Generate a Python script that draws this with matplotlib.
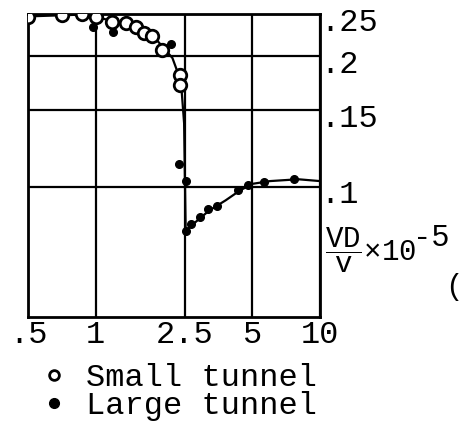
import numpy as np
import matplotlib
matplotlib.use('Agg')
from matplotlib import pyplot as plt
from matplotlib import transforms

plt.rcParams['font.family'] = ['Liberation Mono', 'DejaVu Sans Mono']
plt.rcParams['mathtext.fontset'] = 'custom'
plt.rcParams['mathtext.rm'] = 'Liberation Mono'
plt.rcParams['mathtext.it'] = 'Liberation Mono'

# small tunnel (open circles)
smallX = [0.5, 0.71, 0.87, 1.0, 1.18, 1.37, 1.52, 1.65, 1.79, 1.98, 2.37, 2.37]
smallY = [0.246, 0.249, 0.250, 0.246, 0.240, 0.238, 0.233, 0.226, 0.223, 0.207, 0.181, 0.172]

# large tunnel (filled dots)
largeX = [0.97, 1.19, 2.17, 2.35, 2.52, 2.52, 2.67, 2.92, 3.16, 3.49, 4.32, 4.76, 5.64, 7.68]
largeY = [0.233, 0.227, 0.213, 0.113, 0.103, 0.079, 0.082, 0.085, 0.089, 0.090, 0.098, 0.101, 0.1025, 0.104]

# faired curves
upperX = [0.5, 0.8, 1.0, 1.3, 1.6, 1.9, 2.2, 2.4, 2.48, 2.52]
upperY = [0.247, 0.249, 0.246, 0.239, 0.229, 0.216, 0.198, 0.175, 0.14, 0.079]
lowerX = [2.52, 2.8, 3.2, 3.8, 4.4, 5.0, 6.0, 8.0, 10.0]
lowerY = [0.079, 0.083, 0.088, 0.093, 0.098, 0.1015, 0.103, 0.104, 0.103]

xTicks = [0.5, 1, 2.5, 5, 10]
xTickLabels = ['.5', '1', '2.5', '5', '10']
yTicks = [0.25, 0.2, 0.15, 0.1]
yTickLabels = ['.25', '.2', '.15', '.1']

fs = 23

fig = plt.figure(figsize=(4.61, 4.28), dpi=100)
ax = fig.add_axes([0.061, 0.259, 0.633, 0.708])

ax.plot(upperX, upperY, color='black', lw=1.6, zorder=2)
ax.plot(lowerX, lowerY, color='black', lw=1.6, zorder=2)
ax.plot(smallX, smallY, ls='none', marker='o', ms=9, mfc='white', mec='black', mew=2,
        label='Small tunnel', zorder=3)
ax.plot(largeX, largeY, ls='none', marker='o', ms=5.5, mfc='black', mec='black',
        label='Large tunnel', zorder=4)

ax.set_xscale('log')
ax.set_yscale('log')
ax.set_xlim(0.5, 10)
ax.set_ylim(0.05, 0.25)

ax.minorticks_off()
ax.set_xticks(xTicks)
ax.set_xticklabels(xTickLabels, fontsize=fs)
ax.yaxis.tick_right()
ax.set_yticks(yTicks)
ax.set_yticklabels(yTickLabels, fontsize=fs)
ax.tick_params(axis='x', length=0, pad=2)
ax.tick_params(axis='y', length=0, pad=0)
offset = transforms.ScaledTranslation(0, -5 / 100, fig.dpi_scale_trans)
for lab in ax.get_yticklabels():
    lab.set_transform(lab.get_transform() + offset)

ax.grid(True, color='black', lw=1.6)
for s in ax.spines.values():
    s.set_linewidth(2)

# axis label placed at the right, as in the original
fig.text(0.705, 0.39, r'$\dfrac{\mathrm{VD}}{\mathrm{v}}$' + '×10', fontsize=21, va='baseline')
fig.text(0.895, 0.425, '-5', fontsize=22, va='baseline')
fig.text(0.965, 0.33, '(', fontsize=21, va='center')

leg = fig.legend(loc='upper left', bbox_to_anchor=(0.1, 0.152), frameon=False, fontsize=fs,
                 handlelength=0.5, handletextpad=0.75, labelspacing=-0.05, borderpad=0,
                 borderaxespad=0)
leg.legend_handles[0].set_markersize(7)
leg.legend_handles[1].set_markersize(7)

fig.savefig('out.png', dpi=100)
